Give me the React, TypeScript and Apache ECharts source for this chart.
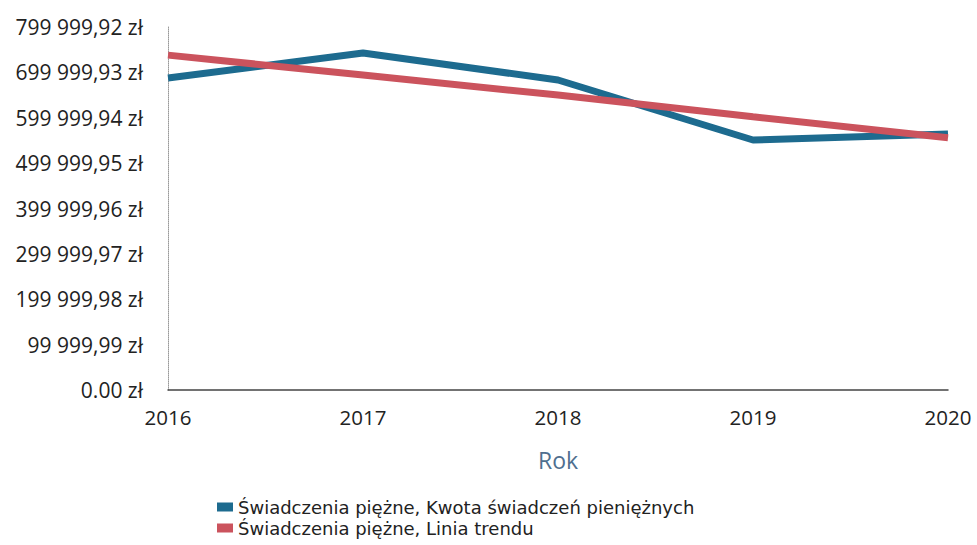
import React, { useEffect, useRef } from "react";
import * as echarts from "echarts";

const years = ["2016", "2017", "2018", "2019", "2020"];
const kwota = [687600, 742700, 683200, 551000, 564200];
const trend = [738000, 694000, 650000, 602000, 556000];
const yTickLabels = [
  "0.00 zł",
  "99 999,99 zł",
  "199 999,98 zł",
  "299 999,97 zł",
  "399 999,96 zł",
  "499 999,95 zł",
  "599 999,94 zł",
  "699 999,93 zł",
  "799 999,92 zł",
];
const seriesNames = [
  "Świadczenia piężne, Kwota świadczeń pieniężnych",
  "Świadczenia piężne, Linia trendu",
];
const yStep = 99999.99;

const FONT = "Open Sans";

export default function App() {
  const ref = useRef<HTMLDivElement>(null);
  useEffect(() => {
    if (!ref.current) return;
    const chart = echarts.init(ref.current, null, { renderer: "svg" });
    chart.setOption({
      animation: false,
      backgroundColor: "#ffffff",
      textStyle: { fontFamily: FONT },
      grid: { left: 168, right: 29, top: 27, bottom: 155 },
      legend: {
        orient: "vertical",
        left: 217,
        top: 498,
        height: 46,
        padding: 0,
        itemWidth: 16,
        itemHeight: 9,
        itemGap: 3,
        icon: "rect",
        textStyle: { fontFamily: "DejaVu Sans", fontSize: 18, lineHeight: 18, color: "#222" },
        data: seriesNames,
      },
      xAxis: {
        type: "category",
        data: years,
        boundaryGap: false,
        name: "Rok",
        nameLocation: "middle",
        nameGap: 58,
        nameTextStyle: { fontFamily: FONT, fontSize: 23, color: "#4f6f8f" },
        axisTick: { show: false },
        axisLine: { show: true, lineStyle: { color: "#444", width: 1.5 } },
        axisLabel: { fontFamily: FONT, fontSize: 20.5, color: "#222", margin: 16 },
        splitLine: { show: false },
      },
      yAxis: {
        type: "value",
        min: 0,
        max: 799999.92,
        interval: yStep,
        axisLine: { show: true, lineStyle: { color: "#999", type: "dotted", width: 1 } },
        axisTick: { show: false },
        splitLine: { show: false },
        axisLabel: {
          fontFamily: FONT,
          fontSize: 21,
          color: "#222",
          margin: 25,
          formatter: (v: number) => yTickLabels[Math.round(v / yStep)] ?? "",
        },
      },
      series: [
        {
          name: seriesNames[0],
          type: "line",
          data: kwota,
          symbol: "none",
          lineStyle: { color: "#1d6b8f", width: 7 },
          itemStyle: { color: "#1d6b8f" },
          z: 2,
        },
        {
          name: seriesNames[1],
          type: "line",
          data: trend,
          symbol: "none",
          lineStyle: { color: "#cb535d", width: 7 },
          itemStyle: { color: "#cb535d" },
          z: 3,
        },
      ],
    });
    return () => chart.dispose();
  }, []);
  return (
    <div
      ref={ref}
      style={{ position: "fixed", left: 0, top: 0, width: 977, height: 545 }}
    />
  );
}
